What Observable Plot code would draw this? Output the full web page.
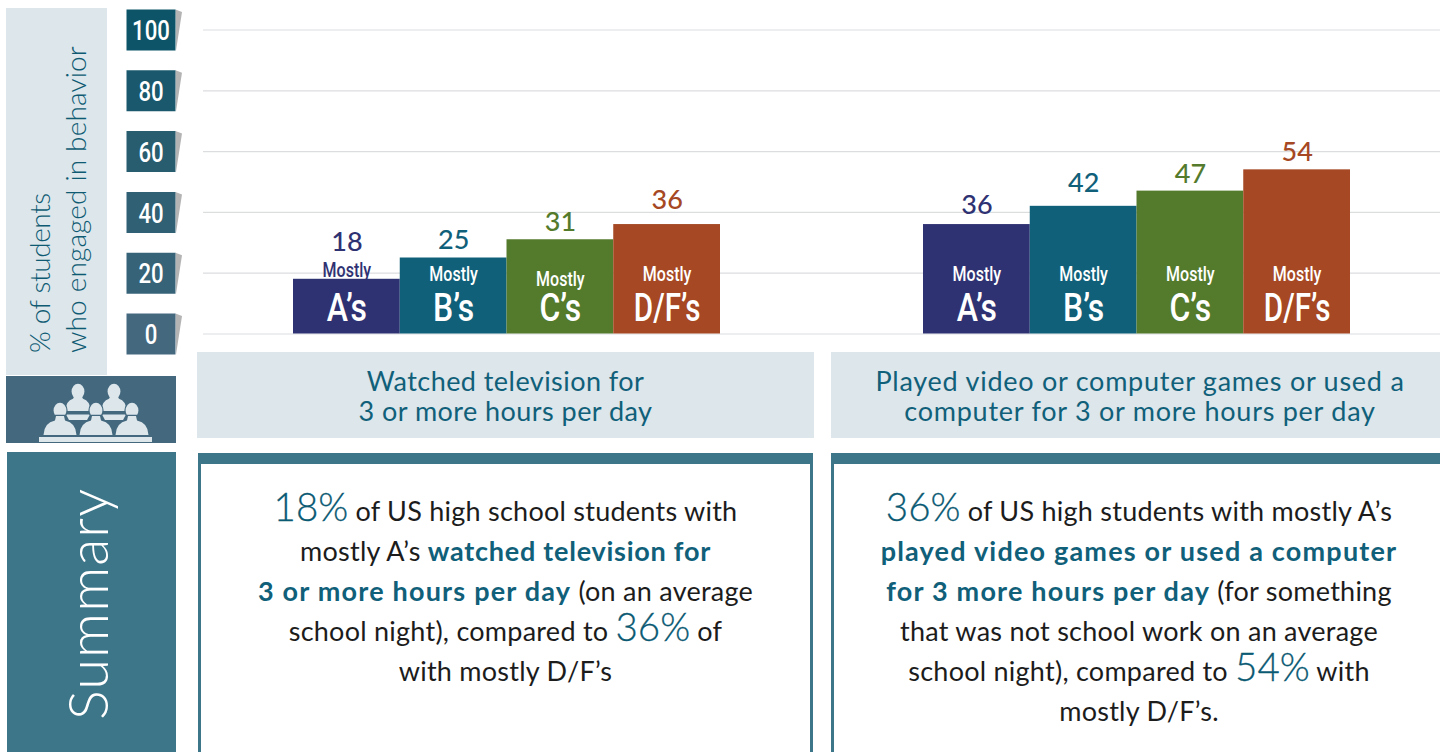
<!DOCTYPE html>
<html lang="en">
<head>
<meta charset="utf-8">
<script src="https://cdn.jsdelivr.net/npm/d3@7"></script>
<script src="https://cdn.jsdelivr.net/npm/@observablehq/plot@0.6"></script>
<style>
html,body{margin:0;padding:0;width:1440px;height:752px;overflow:hidden;background:#fff;font-family:Lato,sans-serif}
#chart{position:absolute;left:0;top:0}
.abs{position:absolute}
.head{background:#dce6eb;color:#10607a;font-size:27px;line-height:30px;text-align:center;top:352px;height:86px;box-sizing:border-box;padding-top:14px}
.box{top:452.5px;height:300px;box-sizing:border-box;border-top:11px solid #3d7589;border-left:3px solid #3d7589;border-right:3px solid #3d7589;color:#1c1c1c;font-size:27px;line-height:40px;text-align:center;padding-top:27px;font-weight:400;letter-spacing:.25px}
.box b{color:#10607a;font-weight:700;letter-spacing:1.2px}
.box b.tight{letter-spacing:.75px}
.box i{font-style:normal;color:#0b5a73;font-size:38.5px;line-height:0;font-weight:300;letter-spacing:0;-webkit-text-stroke:.3px #0b5a73}
.vert{transform:rotate(-90deg);transform-origin:0 0;white-space:nowrap}
</style>
</head>
<body>
<div id="chart"></div>
<div class="abs" style="left:6px;top:8px;width:101px;height:367px;background:#dce6eb"></div>
<div class="abs vert" style="left:21px;top:353px;width:340px;color:#0d5a72;font-size:28px;line-height:36px;font-weight:300;text-align:left"><span style="letter-spacing:-.4px">% of students</span><br><span style="letter-spacing:.15px">who engaged in behavior</span></div>
<div class="abs" style="left:6px;top:376px;width:169.5px;height:66.5px;background:#44697f"></div>
<svg class="abs" style="left:0;top:370px" width="180" height="80" id="icon"></svg>
<div class="abs head" style="left:197px;width:617px;letter-spacing:.45px">Watched television for<br>3 or more hours per day</div>
<div class="abs head" style="left:831px;width:609px;padding-left:9px;letter-spacing:.75px">Played video or computer games or used a<br>computer for 3 or more hours per day</div>
<div class="abs" style="left:7px;top:452px;width:169px;height:300px;background:#3d7589"></div>
<div class="abs vert" style="left:57px;top:720px;width:234px;color:#fff;font-size:56px;line-height:60px;font-weight:300;text-align:left;letter-spacing:1px">Summary</div>
<div class="abs box" style="left:198px;width:615px"><i>18%</i> of US high school students with<br>mostly A’s <b class="tight">watched television for</b><br><b>3 or more hours per day</b> (on an average<br>school night), compared to <i>36%</i> of<br>with mostly D/F’s</div>
<div class="abs box" style="left:831px;width:612px;padding-left:4px"><i>36%</i> of US high students with mostly A’s<br><b>played video games or used a computer</b><br><b>for 3 more hours per day</b> (for something<br>that was not school work on an average<br>school night), compared to <i>54%</i> with<br>mostly D/F’s.</div>
<script>
const behaviors = ["Watched television", "Played video or computer games"];
const grades = ["A’s", "B’s", "C’s", "D/F’s"];
const televisionValues = [18, 25, 31, 36];
const gameValues = [36, 42, 47, 54];
const gradeColors = ["#2f3272", "#10607a", "#547a2c", "#a54823"];
const tickValues = [0, 20, 40, 60, 80, 100];
const tickColors = ["#44697f", "#366378", "#2f6073", "#285d70", "#1a586d", "#0d5468"];

const rows = [
  ...grades.map((grade, i) => ({behavior: behaviors[0], grade, value: televisionValues[i], color: gradeColors[i]})),
  ...grades.map((grade, i) => ({behavior: behaviors[1], grade, value: gameValues[i], color: gradeColors[i]}))
];
const ticks = tickValues.map((value, i) => ({value, color: tickColors[i], behavior: behaviors[0]}));

const labelFont = "Roboto,sans-serif";
const chipDx = -142.5;
const chip = {draw(c){c.moveTo(-24.5,-20.5);c.lineTo(24.5,-20.5);c.lineTo(24.5,20.5);c.lineTo(-24.5,20.5);c.closePath();}};
const chipShadow = {draw(c){c.moveTo(24.5,-20.5);c.lineTo(31,-18);c.lineTo(25,20.5);c.closePath();}};

// label offsets above each bar, in reading order of rows
const valueDy = [-28, -9, -9, -16, -11, -14, -8, -9];
const mostlyDy = [-57, -53, -48, -53, -53, -53, -53, -53];

const plot = Plot.plot({
  width: 1440,
  height: 360,
  marginLeft: 293,
  marginRight: 90,
  marginTop: 29.5,
  marginBottom: 26.5,
  fx: {domain: behaviors, axis: null, paddingInner: 203 / 630, paddingOuter: 0, round: false},
  x: {domain: grades, axis: null, padding: 0, round: false},
  y: {domain: [0, 100], axis: null},
  color: {type: "identity"},
  style: {background: "transparent", overflow: "visible"},
  marks: [
    Plot.ruleY(tickValues, {y: d => d, stroke: "#dcdddf", strokeWidth: 1.2, insetLeft: -90, insetRight: -113}),
    Plot.barY(rows, {fx: "behavior", x: "grade", y: "value", fill: "color"}),
    Plot.dot(ticks, {fx: "behavior", y: "value", frameAnchor: "left", dx: chipDx, symbol: chipShadow, fill: "#b4b4b4", stroke: "none"}),
    Plot.dot(ticks, {fx: "behavior", y: "value", frameAnchor: "left", dx: chipDx, symbol: chip, fill: "color", stroke: "none"}),
    Plot.text(ticks, {fx: "behavior", y: "value", frameAnchor: "left", dx: chipDx, dy: 1.5, text: d => String(d.value), fill: "#fff", fontFamily: labelFont, fontSize: 27, fontWeight: 500, lineAnchor: "middle", textAnchor: "middle", className: "condense-chip"}),
    ...rows.flatMap((d, i) => [
      Plot.text([d], {fx: "behavior", x: "grade", y: "value", text: r => String(r.value), fill: "color", fontFamily: "Lato,sans-serif", fontSize: 27, fontWeight: 500, lineAnchor: "bottom", dy: valueDy[i], style: {letterSpacing: "2px"}}),
      Plot.text([d], {fx: "behavior", x: "grade", y: () => 0, text: () => "Mostly", fill: i === 0 ? "#2f3272" : "#fff", fontFamily: labelFont, fontSize: 20, fontWeight: 500, lineAnchor: "bottom", dy: mostlyDy[i], className: "condense-mostly"}),
      Plot.text([d], {fx: "behavior", x: "grade", y: () => 0, text: "grade", fill: "#fff", fontFamily: labelFont, fontSize: 38, fontWeight: 500, lineAnchor: "bottom", dy: -13, className: "condense-grade"})
    ])
  ]
});
document.getElementById("chart").append(plot);

// no condensed face is installed: narrow the real text to the reference's widths
const condense = (cls, factor) => plot.querySelectorAll(`.${cls} text`).forEach(t => {
  const f = typeof factor === "function" ? factor(t.textContent) : factor;
  t.setAttribute("textLength", t.getComputedTextLength() * f);
  t.setAttribute("lengthAdjust", "spacingAndGlyphs");
});
condense("condense-chip", 0.82);
condense("condense-mostly", 0.8);
condense("condense-grade", s => s.startsWith("D") ? 0.78 : 0.84);

// decorative audience icon
const ink = "#dce6eb", base = "#44697f";
const person = (cx, top, w, h, outline) => `<g ${outline ? `stroke="${base}" stroke-width="2.4" paint-order="stroke"` : ""} fill="${ink}"><ellipse cx="${cx}" cy="${top+7.5}" rx="6.4" ry="7.8"/><path d="M${cx-4} ${top+13}L${cx-5} ${top+h*0.55}Q${cx-w} ${top+h*0.62} ${cx-w-0.5} ${top+h}L${cx+w+0.5} ${top+h}Q${cx+w} ${top+h*0.62} ${cx+5} ${top+h*0.55}L${cx+4} ${top+13}Z"/></g>`;
document.getElementById("icon").innerHTML =
  person(78, 14, 12, 27) + person(114, 14, 12, 27) +
  `<path d="M66 44.500H90L87 50H69Z" fill="${ink}"/><path d="M102 44.500H126L123 50H105Z" fill="${ink}"/>` +
  [60, 96, 132].map(cx => person(cx, 33, 16, 32, true)).join("") +
  `<rect x="39" y="67" width="113" height="5" fill="${ink}"/>`;
</script>
</body>
</html>
